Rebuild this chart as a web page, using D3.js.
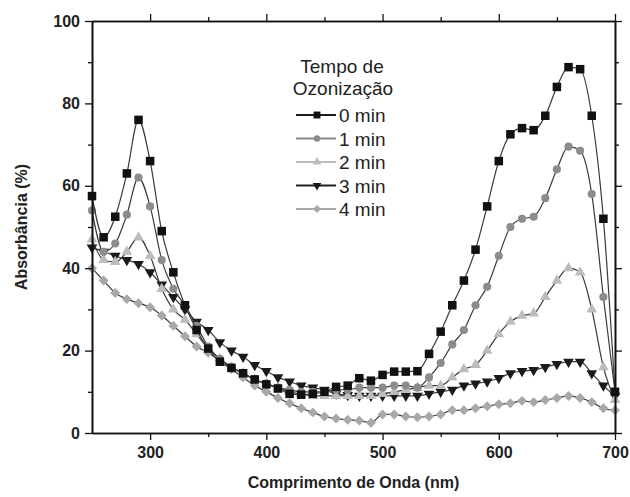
<!DOCTYPE html>
<html>
<head>
<meta charset="utf-8">
<script src="https://cdn.jsdelivr.net/npm/d3@7"></script>
<style>
  body { margin: 0; background: #fff; }
  text { font-family: "Liberation Sans", Arial, sans-serif; fill: #222; }
</style>
</head>
<body>
<svg id="chart" width="630" height="497"></svg>
<script>
'use strict';

// wavelength grid (nm)
var wavelengths = [250, 260, 270, 280, 290, 300, 310, 320, 330, 340,
                   350, 360, 370, 380, 390, 400, 410, 420, 430, 440,
                   450, 460, 470, 480, 490, 500, 510, 520, 530, 540,
                   550, 560, 570, 580, 590, 600, 610, 620, 630, 640,
                   650, 660, 670, 680, 690, 700];

// absorbance (%) per ozonization time
var abs0min = [57.5, 47.5, 52.5, 63, 76, 66, 49, 39, 31, 25,
               20.5, 17.3, 15.8, 14.5, 13, 11.8, 10.8, 9.5, 9.3, 9.5,
               10, 11.2, 11.5, 13.3, 12.7, 14.1, 14.9, 14.9, 15, 19.2,
               24.6, 31, 37, 44.5, 55, 66, 72.5, 74, 73.5, 77,
               84, 88.8, 88.3, 77, 52, 10];
var abs1min = [54, 44, 46, 53, 62, 55, 42, 35, 31, 26,
               21, 18, 16, 14.5, 13, 12, 11, 10.5, 10, 10,
               10, 10.5, 10.5, 11, 11, 11, 11.5, 11.5, 11, 13.5,
               17, 21.5, 25, 31, 35.5, 43, 50, 52, 52.5, 57,
               64, 69.5, 68.5, 58, 33, 10];
var abs2min = [47, 42, 41.5, 44, 47.5, 43, 35, 30, 27.5, 24,
               20.5, 18, 16, 14.5, 13, 12, 11, 10, 9.5, 9,
               9, 9, 9, 9, 9, 9.5, 10, 10.5, 11, 11.5,
               11.5, 13.5, 15.5, 16.5, 20, 24, 27, 28.5, 29, 33,
               37, 40, 39, 30, 16, 8];
var abs3min = [45, 44, 43, 42, 41, 39, 36, 33, 30, 27,
               25, 22, 20, 18.5, 16.5, 15, 13.5, 12.5, 11.5, 11,
               10.5, 9.5, 9.2, 9, 9, 9, 9, 9, 9, 9.5,
               10, 10.5, 11.5, 12, 12.5, 13.3, 14.5, 15, 15.3, 16,
               16.7, 17.3, 17.3, 14.5, 11.5, 9];
var abs4min = [40, 37, 34, 32.5, 31.5, 30.5, 28.5, 26, 23.5, 21,
               19.5, 17.5, 15.5, 13.5, 11.5, 10, 8.5, 7.2, 6, 5,
               4, 3.5, 3.2, 3, 2.5, 4.5, 4.5, 4, 3.8, 4,
               4.5, 5.5, 5.5, 6, 6.5, 7, 7.2, 7.8, 7.5, 8,
               8.5, 9, 8.5, 7.5, 6, 5.5];

var seriesLabels = ['0 min', '1 min', '2 min', '3 min', '4 min'];
var xMajorTicks = [300, 400, 500, 600, 700];
var xMinorTicks = [350, 450, 550, 650];
var yMajorTicks = [0, 20, 40, 60, 80, 100];
var yMinorTicks = [10, 30, 50, 70, 90];

var series = [
  { label: seriesLabels[0], values: abs0min, shape: 'square',  fill: '#111',    legendLine: '#1a1a1a' },
  { label: seriesLabels[1], values: abs1min, shape: 'circle',  fill: '#8c8c8c', legendLine: '#8a8a8a' },
  { label: seriesLabels[2], values: abs2min, shape: 'triUp',   fill: '#bcbcbc', legendLine: '#bdbdbd' },
  { label: seriesLabels[3], values: abs3min, shape: 'triDown', fill: '#1a1a1a', legendLine: '#222' },
  { label: seriesLabels[4], values: abs4min, shape: 'diamond', fill: '#a8a8a8', legendLine: '#aaa' }
];

var svg = d3.select('#chart');
var mLeft = 92, mRight = 615, mTop = 21, mBottom = 433;

var x = d3.scaleLinear().domain([250, 700]).range([mLeft, mRight]);
var y = d3.scaleLinear().domain([0, 100]).range([mBottom, mTop]);

function markerPath(shape, s) {
  var sym = d3.symbol();
  if (shape === 'square') return sym.type(d3.symbolSquare).size(s * 1.4)();
  if (shape === 'circle') return sym.type(d3.symbolCircle).size(s)();
  if (shape === 'triUp' || shape === 'triDown') return sym.type(d3.symbolTriangle).size(s * 0.95)();
  return sym.type(d3.symbolSquare).size(s * 0.95)();
}
function markerRot(shape) {
  if (shape === 'triDown') return ' rotate(180)';
  if (shape === 'diamond') return ' rotate(45)';
  return '';
}

// data
var line = d3.line()
  .x(function(d) { return x(d[0]); })
  .y(function(d) { return y(d[1]); })
  .curve(d3.curveMonotoneX);

var plotg = svg.append('g');
series.slice().reverse().forEach(function(s) {
  var pts = wavelengths.map(function(w, i) { return [w, s.values[i]]; });
  var g = plotg.append('g');
  g.append('path').attr('d', line(pts))
    .attr('fill', 'none').attr('stroke', '#3a3a3a').attr('stroke-width', 1.2);
  g.selectAll('path.m').data(pts).enter().append('path').attr('class', 'm')
    .attr('d', markerPath(s.shape, 52))
    .attr('transform', function(d) {
      return 'translate(' + x(d[0]) + ',' + y(d[1]) + ')' + markerRot(s.shape);
    })
    .attr('fill', s.fill).attr('stroke', 'none');
});

// axes
function styleAxis(g) {
  g.select('.domain').attr('stroke', '#111').attr('stroke-width', 1.6);
  g.selectAll('.tick line').attr('stroke', '#111').attr('stroke-width', 1.3);
  g.selectAll('.tick text').style('font-size', '16px').style('font-weight', 'bold')
    .attr('fill', '#222');
}

svg.append('g').attr('transform', 'translate(0,' + mBottom + ')')
  .call(d3.axisBottom(x).tickValues(xMajorTicks).tickSize(7).tickPadding(7)
        .tickFormat(d3.format('d')).tickSizeOuter(0))
  .call(styleAxis);
svg.append('g').attr('transform', 'translate(0,' + mBottom + ')')
  .call(d3.axisBottom(x).tickValues(xMinorTicks).tickSize(4).tickFormat('').tickSizeOuter(0))
  .call(styleAxis);
svg.append('g').attr('transform', 'translate(0,' + mTop + ')')
  .call(d3.axisTop(x).tickValues(xMajorTicks).tickSize(7).tickFormat('').tickSizeOuter(0))
  .call(styleAxis);
svg.append('g').attr('transform', 'translate(0,' + mTop + ')')
  .call(d3.axisTop(x).tickValues(xMinorTicks).tickSize(4).tickFormat('').tickSizeOuter(0))
  .call(styleAxis);

svg.append('g').attr('transform', 'translate(' + mLeft + ',0)')
  .call(d3.axisLeft(y).tickValues(yMajorTicks).tickSize(7).tickPadding(5).tickSizeOuter(0))
  .call(styleAxis);
svg.append('g').attr('transform', 'translate(' + mLeft + ',0)')
  .call(d3.axisLeft(y).tickValues(yMinorTicks).tickSize(4).tickFormat('').tickSizeOuter(0))
  .call(styleAxis);
svg.append('g').attr('transform', 'translate(' + mRight + ',0)')
  .call(d3.axisRight(y).tickValues(yMajorTicks).tickSize(7).tickFormat('').tickSizeOuter(0))
  .call(styleAxis);
svg.append('g').attr('transform', 'translate(' + mRight + ',0)')
  .call(d3.axisRight(y).tickValues(yMinorTicks).tickSize(4).tickFormat('').tickSizeOuter(0))
  .call(styleAxis);

// axis titles
svg.append('text').attr('x', (mLeft + mRight) / 2).attr('y', 488)
  .attr('text-anchor', 'middle').style('font-size', '16px').style('font-weight', 'bold')
  .text('Comprimento de Onda (nm)');
svg.append('text')
  .attr('transform', 'translate(27,' + ((mTop + mBottom) / 2) + ') rotate(-90)')
  .attr('text-anchor', 'middle').style('font-size', '16px').style('font-weight', 'bold')
  .text('Absorbância (%)');

// legend
var leg = svg.append('g');
leg.append('text').attr('x', 342).attr('y', 73).attr('text-anchor', 'middle')
  .style('font-size', '19px').text('Tempo de');
leg.append('text').attr('x', 343).attr('y', 95).attr('text-anchor', 'middle')
  .style('font-size', '19px').text('Ozonização');

var rows = leg.selectAll('g.row').data(series).enter().append('g')
  .attr('transform', function(d, i) { return 'translate(0,' + (115 + i * 23.5) + ')'; });
rows.append('line').attr('x1', 296).attr('x2', 336).attr('y1', 0).attr('y2', 0)
  .attr('stroke', function(d) { return d.legendLine; }).attr('stroke-width', 2);
rows.append('path')
  .attr('d', function(d) { return markerPath(d.shape, 34); })
  .attr('transform', function(d) { return 'translate(317,0)' + markerRot(d.shape); })
  .attr('fill', function(d) { return d.fill; });
rows.append('text').attr('x', 339).attr('y', 7).style('font-size', '19px')
  .text(function(d) { return d.label; });
</script>
</body>
</html>
